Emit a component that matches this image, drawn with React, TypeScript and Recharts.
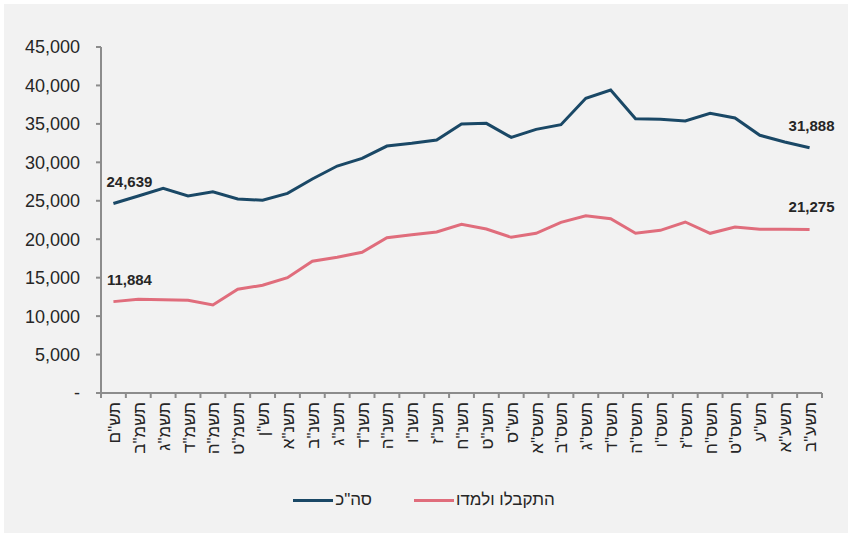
import { LineChart, Line, XAxis, YAxis } from 'recharts'

// school years, oldest to newest
const years = [
  'תש"ם', 'תשמ"ב', 'תשמ"ג', 'תשמ"ד', 'תשמ"ה', 'תשמ"ט', 'תש"ן', 'תשנ"א', 'תשנ"ב', 'תשנ"ג',
  'תשנ"ד', 'תשנ"ה', 'תשנ"ו', 'תשנ"ז', 'תשנ"ח', 'תשנ"ט', 'תש"ס', 'תשס"א', 'תשס"ב', 'תשס"ג',
  'תשס"ד', 'תשס"ה', 'תשס"ו', 'תשס"ז', 'תשס"ח', 'תשס"ט', 'תש"ע', 'תשע"א', 'תשע"ב',
]

const total = [
  24639, 25620, 26620, 25620, 26180, 25230, 25060, 25970, 27830, 29520,
  30520, 32120, 32470, 32900, 34990, 35070, 33250, 34290, 34900, 38330,
  39400, 35680, 35600, 35380, 36380, 35770, 33520, 32650, 31888,
]

const admitted = [
  11884, 12190, 12140, 12050, 11450, 13490, 14010, 15000, 17130, 17650,
  18300, 20200, 20590, 20940, 21940, 21330, 20250, 20770, 22200, 23060,
  22670, 20770, 21160, 22240, 20770, 21590, 21290, 21290, 21275,
]

const yTicks = [0, 5000, 10000, 15000, 20000, 25000, 30000, 35000, 40000, 45000]

const TOTAL_NAME = 'סה"כ'
const ADMITTED_NAME = 'התקבלו ולמדו'

const data = years.map((year, i) => ({
  year,
  total: total[i],
  admitted: admitted[i],
}))

const WIDTH = 848
const HEIGHT = 533
const MARGIN = { top: 47, right: 26, bottom: 0, left: 0 }
const Y_AXIS_WIDTH = 101
const BAND = (WIDTH - MARGIN.left - MARGIN.right - Y_AXIS_WIDTH) / years.length

const DARK = '#1a4866'
const PINK = '#e06d7c'
const AXIS = '#8c8c8c'
const font = '"Liberation Sans", Arial, sans-serif'

const fmt = (v: number) => (v === 0 ? '-' : v.toLocaleString('en-US'))

function YearTick(props: any) {
  const { x, y, payload, index } = props
  const last = index === years.length - 1
  return (
    <g>
      <line x1={x - BAND / 2} y1={y - 8} x2={x - BAND / 2} y2={y - 3} stroke={AXIS} strokeWidth={2} />
      {last && <line x1={x + BAND / 2} y1={y - 8} x2={x + BAND / 2} y2={y - 3} stroke={AXIS} strokeWidth={2} />}
      <text
        transform={`translate(${x + 1},${y + 1}) rotate(-90)`}
        textAnchor="end"
        dominantBaseline="central"
        fontSize={17}
        fontFamily={font}
        fill="#262626"
      >
        {payload.value}
      </text>
    </g>
  )
}

function EndLabel(props: any) {
  const { x, y, value, index } = props
  if (index !== 0 && index !== years.length - 1) return null
  const dx = index === 0 ? 16 : 2
  return (
    <text
      x={x + dx}
      y={y - 17}
      textAnchor="middle"
      fontSize={15}
      fontWeight="bold"
      fontFamily={font}
      fill="#262626"
    >
      {fmt(value)}
    </text>
  )
}

function ChartLegend() {
  const items = [
    { name: TOTAL_NAME, color: DARK },
    { name: ADMITTED_NAME, color: PINK },
  ]
  return (
    <div
      style={{
        position: 'absolute',
        left: 0,
        top: 489,
        width: WIDTH,
        display: 'flex',
        justifyContent: 'center',
        gap: 42,
        fontFamily: font,
        fontSize: 17,
        lineHeight: '22px',
        color: '#262626',
      }}
    >
      {items.map((it) => (
        <div key={it.name} style={{ display: 'flex', alignItems: 'center', gap: 2 }}>
          <span style={{ display: 'inline-block', width: 40, height: 3, background: it.color }} />
          <span>{it.name}</span>
        </div>
      ))}
    </div>
  )
}

export default function App() {
  return (
    <div style={{ position: 'fixed', left: 0, top: 0, width: WIDTH, height: HEIGHT, background: '#ffffff' }}>
      <div style={{ position: 'absolute', left: 4, top: 4, right: 0, bottom: 0, background: '#f2f2f2' }} />
      <div style={{ position: 'absolute', left: 0, top: 0 }}>
        <LineChart width={WIDTH} height={HEIGHT} data={data} margin={MARGIN}>
          <XAxis
            dataKey="year"
            scale="band"
            interval={0}
            height={140}
            axisLine={{ stroke: AXIS, strokeWidth: 2 }}
            tickLine={false}
            tick={<YearTick />}
            tickMargin={0}
            tickSize={8}
          />
          <YAxis
            width={Y_AXIS_WIDTH}
            domain={[0, 45000]}
            ticks={yTicks}
            tickFormatter={fmt}
            axisLine={{ stroke: AXIS, strokeWidth: 2 }}
            tickLine={{ stroke: AXIS, strokeWidth: 2 }}
            tickSize={5}
            tickMargin={16}
            tick={{ fontSize: 18, fontFamily: font, fill: '#262626' }}
          />
          <Line
            dataKey="total"
            name={TOTAL_NAME}
            stroke={DARK}
            strokeWidth={3}
            dot={false}
            isAnimationActive={false}
            label={<EndLabel />}
          />
          <Line
            dataKey="admitted"
            name={ADMITTED_NAME}
            stroke={PINK}
            strokeWidth={3}
            dot={false}
            isAnimationActive={false}
            label={<EndLabel />}
          />
        </LineChart>
      </div>
      <ChartLegend />
    </div>
  )
}
